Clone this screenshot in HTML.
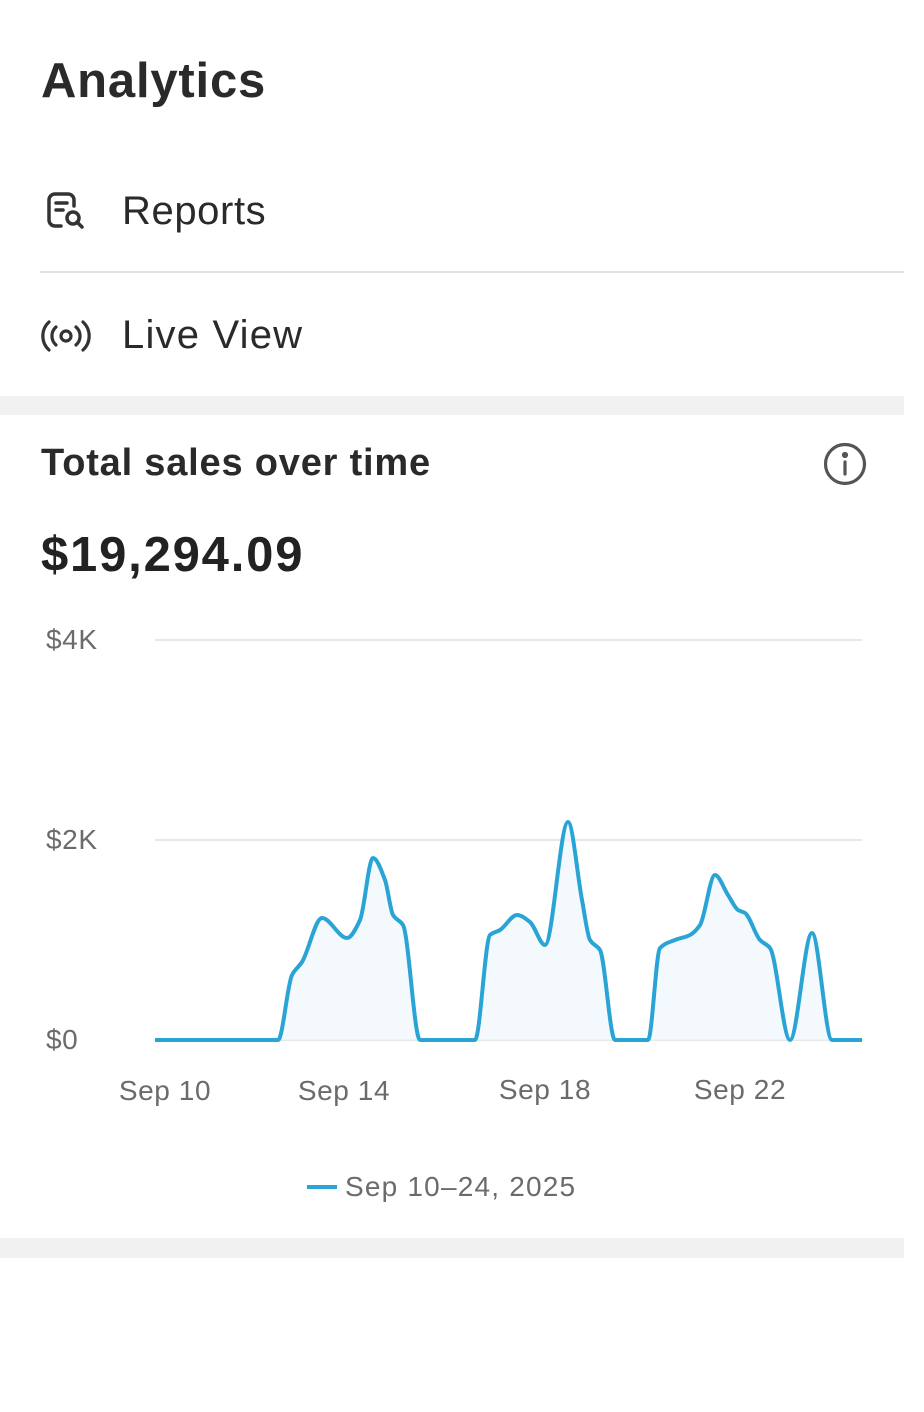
<!DOCTYPE html>
<html><head><meta charset="utf-8"><style>
body{margin:0;width:924px;height:1412px;background:#fff;font-family:"Liberation Sans",sans-serif;color:#222;position:relative;overflow:hidden}
.a{position:absolute;white-space:nowrap}
</style></head><body>
<div class="a" style="left:41px;top:53px;font-size:49px;font-weight:bold;color:#2a2a2a;letter-spacing:0.8px">Analytics</div>
<svg class="a" style="left:44px;top:190px" width="46" height="46" viewBox="0 0 46 46" fill="none" stroke="#333" stroke-width="3.5" stroke-linecap="round">
<path d="M30 16 V10 a6 6 0 0 0 -6 -6 H11 a6 6 0 0 0 -6 6 V30 a6 6 0 0 0 6 6 H17"/><path d="M12 13 H23 M12 20 H19"/><circle cx="29" cy="28" r="6"/><path d="M33 32 L38 37"/></svg>
<div class="a" style="left:122px;top:189px;font-size:40px;color:#2a2a2a;letter-spacing:0.6px">Reports</div>
<div class="a" style="left:40px;top:271px;width:864px;height:2px;background:#e3e3e3"></div>
<svg class="a" style="left:40px;top:318px" width="52" height="36" viewBox="0 0 52 36" fill="none" stroke="#333" stroke-width="3.2" stroke-linecap="round">
<circle cx="26" cy="18" r="5"/><path d="M16 9 a12 12 0 0 0 0 18 M36 9 a12 12 0 0 1 0 18 M9 4 a19 19 0 0 0 0 28 M43 4 a19 19 0 0 1 0 28"/></svg>
<div class="a" style="left:122px;top:313px;font-size:40px;color:#2a2a2a;letter-spacing:1.2px">Live View</div>
<div class="a" style="left:0;top:396px;width:904px;height:19px;background:#f1f1f1"></div>
<div class="a" style="left:41px;top:442px;font-size:38px;font-weight:bold;color:#2a2a2a;letter-spacing:0.8px">Total sales over time</div>
<svg class="a" style="left:822px;top:441px" width="46" height="46" viewBox="0 0 46 46" fill="none" stroke="#555" stroke-width="3.2" stroke-linecap="round">
<circle cx="23" cy="23" r="19.5"/><path d="M23 21 V33"/><circle cx="23" cy="14" r="1.5" fill="#555"/></svg>
<div class="a" style="left:41px;top:527px;font-size:49px;font-weight:bold;color:#222;letter-spacing:1.8px">$19,294.09</div>
<svg class="a" style="left:0;top:0" width="924" height="1412">
<g stroke="#e8e8e8" stroke-width="2"><line x1="155" y1="640" x2="862" y2="640"/><line x1="155" y1="840" x2="862" y2="840"/><line x1="155" y1="1040" x2="862" y2="1040"/></g>
<g font-family="Liberation Sans, sans-serif" font-size="28" fill="#6b6b6b" letter-spacing="0.6">
<text x="46" y="649">$4K</text><text x="46" y="849">$2K</text><text x="46" y="1049">$0</text>
<text x="165" y="1100" text-anchor="middle">Sep 10</text><text x="344" y="1100" text-anchor="middle">Sep 14</text>
<text x="545" y="1099" text-anchor="middle">Sep 18</text><text x="740" y="1099" text-anchor="middle">Sep 22</text>
<text x="345" y="1196" letter-spacing="1.2">Sep 10–24, 2025</text></g>
<line x1="307" y1="1187" x2="337" y2="1187" stroke="#2aa4d5" stroke-width="4"/>
<path id="fill" fill="#eef7fc" opacity="0.7"/>
<path id="ln" fill="none" stroke="#2aa4d5" stroke-width="4" stroke-linejoin="round"/>
</svg>
<div class="a" style="left:0;top:1238px;width:904px;height:20px;background:#f1f1f1"></div>
<script>
var p=[[155,1040],[278,1040],[292,975],[302,962],[322,918],[347,938],[360,920],[373,858],[385,880],[393,915],[403,925],[420,1040],[475,1040],[490,935],[500,930],[517,915],[530,922],[545,945],[568,822],[582,900],[590,940],[600,950],[615,1040],[648,1040],[660,948],[675,940],[690,935],[700,925],[715,875],[728,895],[738,910],[745,913],[760,940],[770,948],[790,1040],[812,933],[832,1040],[862,1040]];
var n=p.length,dl=[],m=[];
for(var i=0;i<n-1;i++)dl.push((p[i+1][1]-p[i][1])/(p[i+1][0]-p[i][0]));
for(var i=0;i<n;i++){if(i==0)m.push(dl[0]);else if(i==n-1)m.push(dl[n-2]);else if(dl[i-1]*dl[i]<=0)m.push(0);else{var h0=p[i][0]-p[i-1][0],h1=p[i+1][0]-p[i][0];var w1=2*h1+h0,w2=h1+2*h0;m.push((w1+w2)/(w1/dl[i-1]+w2/dl[i]));}}
var d="M"+p[0];
for(var i=0;i<n-1;i++){var h=(p[i+1][0]-p[i][0])/3;
d+=" C"+(p[i][0]+h)+","+(p[i][1]+m[i]*h)+" "+(p[i+1][0]-h)+","+(p[i+1][1]-m[i+1]*h)+" "+p[i+1];}
document.getElementById("ln").setAttribute("d",d);
document.getElementById("fill").setAttribute("d",d+" L862,1040 L155,1040Z");
</script>
</body></html>
